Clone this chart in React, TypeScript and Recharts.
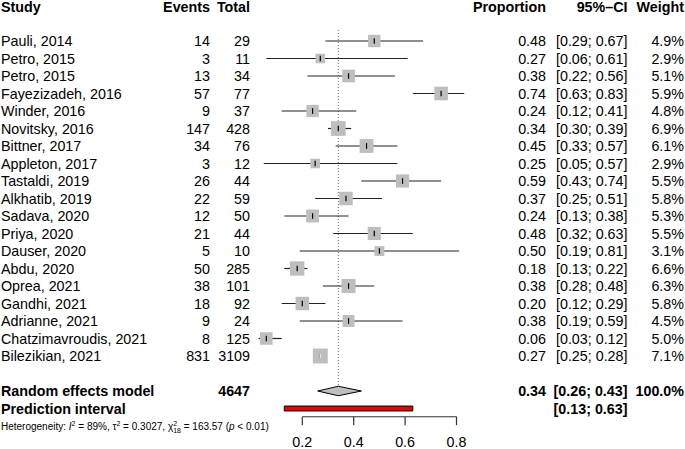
import React from "react";
import { ComposedChart, XAxis, YAxis, Scatter, ErrorBar, ReferenceLine, ReferenceArea, Area } from "recharts";

const studies = [
  "Pauli, 2014", "Petro, 2015", "Petro, 2015", "Fayezizadeh, 2016", "Winder, 2016", "Novitsky, 2016",
  "Bittner, 2017", "Appleton, 2017", "Tastaldi, 2019", "Alkhatib, 2019", "Sadava, 2020", "Priya, 2020",
  "Dauser, 2020", "Abdu, 2020", "Oprea, 2021", "Gandhi, 2021", "Adrianne, 2021", "Chatzimavroudis, 2021",
  "Bilezikian, 2021",
];
const events = [14, 3, 13, 57, 9, 147, 34, 3, 26, 22, 12, 21, 5, 50, 38, 18, 9, 8, 831];
const totals = [29, 11, 34, 77, 37, 428, 76, 12, 44, 59, 50, 44, 10, 285, 101, 92, 24, 125, 3109];
const proportions = [0.48, 0.27, 0.38, 0.74, 0.24, 0.34, 0.45, 0.25, 0.59, 0.37, 0.24, 0.48, 0.5, 0.18, 0.38, 0.2, 0.38, 0.06, 0.27];
const ciLower = [0.29, 0.06, 0.22, 0.63, 0.12, 0.3, 0.33, 0.05, 0.43, 0.25, 0.13, 0.32, 0.19, 0.13, 0.28, 0.12, 0.19, 0.03, 0.25];
const ciUpper = [0.67, 0.61, 0.56, 0.83, 0.41, 0.39, 0.57, 0.57, 0.74, 0.51, 0.38, 0.63, 0.81, 0.22, 0.48, 0.29, 0.59, 0.12, 0.28];
const weights = [4.9, 2.9, 5.1, 5.9, 4.8, 6.9, 6.1, 2.9, 5.5, 5.8, 5.3, 5.5, 3.1, 6.6, 6.3, 5.8, 4.5, 5.0, 7.1];

// random effects model: estimate, lower, upper
const pooled = [0.34, 0.26, 0.43];
const prediction = [0.13, 0.63];
const axisTicks = [0.2, 0.4, 0.6, 0.8];
const headers = ["Study", "Events", "Total", "Proportion", "95%\u2013CI", "Weight"];

// layout
const W = 685;
const H = 449;
const X0 = 250.9; // pixel of proportion 0
const XS = 257; // px per unit
const Y0 = 41; // pixel of first study row
const RS = 17.5; // row height
const xDomain = [-X0 / XS, (W - X0) / XS];
const yDomain = [-Y0 / RS, (H - Y0) / RS];
const px = (p: number) => (p - X0) / XS;

const FONT = '"Liberation Sans", Arial, Helvetica, sans-serif';
const FS = 14.3;
const HEAD_ROW = -1.93;
const SUMMARY_ROW = studies.length + 1;
const PRED_ROW = studies.length + 2;
const HET_ROW = studies.length + 3.05;
const AXIS_ROW = 21.47;
const TICK_ROW = 22.92;

const col = { study: px(1), events: px(210), total: px(250), prop: px(546), ci: px(627.5), weight: px(684) };

const fmtCi = (lo: number, hi: number) => `[${lo.toFixed(2)}; ${hi.toFixed(2)}]`;
const sideOf = (w: number) => 5.6 * Math.sqrt(w);

const forestRows = studies.map((s, i) => ({
  x: proportions[i],
  y: i,
  err: [proportions[i] - ciLower[i], ciUpper[i] - proportions[i]],
  w: weights[i],
  inner: (ciUpper[i] - ciLower[i]) * XS < sideOf(weights[i]),
}));
const innerRows = forestRows.filter((r) => r.inner);

const diamond = [
  { x: pooled[1], band: [SUMMARY_ROW, SUMMARY_ROW] },
  { x: pooled[0], band: [SUMMARY_ROW - 0.27, SUMMARY_ROW + 0.27] },
  { x: pooled[2], band: [SUMMARY_ROW, SUMMARY_ROW] },
];

type Cell = { x: number; y: number; text: string; b?: boolean };

const textCells = (anchor: "start" | "end" | "middle", cells: Cell[], key: string) => (
  <Scatter
    key={key}
    data={cells}
    isAnimationActive={false}
    shape={(p: any) => (
      <text
        x={p.cx}
        y={p.cy}
        dy="0.35em"
        textAnchor={anchor}
        fontFamily={FONT}
        fontSize={FS}
        fontWeight={p.payload.b ? "bold" : "normal"}
        fill="#000"
      >
        {p.payload.text}
      </text>
    )}
  />
);

const startCells: Cell[] = [
  { x: col.study, y: HEAD_ROW, text: headers[0], b: true },
  ...studies.map((s, i) => ({ x: col.study, y: i, text: s })),
  { x: col.study, y: SUMMARY_ROW, text: "Random effects model", b: true },
  { x: col.study, y: PRED_ROW, text: "Prediction interval", b: true },
];

const endCells: Cell[] = [
  { x: col.events, y: HEAD_ROW, text: headers[1], b: true },
  { x: col.total, y: HEAD_ROW, text: headers[2], b: true },
  { x: col.prop, y: HEAD_ROW, text: headers[3], b: true },
  { x: col.ci, y: HEAD_ROW, text: headers[4], b: true },
  { x: col.weight, y: HEAD_ROW, text: headers[5], b: true },
  ...studies.flatMap((s, i) => [
    { x: col.events, y: i, text: String(events[i]) },
    { x: col.total, y: i, text: String(totals[i]) },
    { x: col.prop, y: i, text: proportions[i].toFixed(2) },
    { x: col.ci, y: i, text: fmtCi(ciLower[i], ciUpper[i]) },
    { x: col.weight, y: i, text: `${weights[i].toFixed(1)}%` },
  ]),
  { x: col.total, y: SUMMARY_ROW, text: String(totals.reduce((a, b) => a + b, 0)), b: true },
  { x: col.prop, y: SUMMARY_ROW, text: pooled[0].toFixed(2), b: true },
  { x: col.ci, y: SUMMARY_ROW, text: fmtCi(pooled[1], pooled[2]), b: true },
  { x: col.weight, y: SUMMARY_ROW, text: `${weights.reduce((a, b) => a + b, 0).toFixed(1)}%`, b: true },
  { x: col.ci, y: PRED_ROW, text: fmtCi(prediction[0], prediction[1]), b: true },
];

const tickCells: Cell[] = axisTicks.map((t) => ({ x: t, y: TICK_ROW, text: String(t) }));

const Square = (p: any) => {
  const s = sideOf(p.payload.w);
  return (
    <g>
      <rect x={p.cx - s / 2} y={p.cy - s / 2} width={s} height={s} fill="#bebebe" />
      <line x1={p.cx} x2={p.cx} y1={p.cy - 2.8} y2={p.cy + 2.8} stroke="#000" strokeWidth={1.2} />
    </g>
  );
};

const WhiteTick = (p: any) => (
  <line x1={p.cx} x2={p.cx} y1={p.cy - 2.8} y2={p.cy + 2.8} stroke="#fff" strokeWidth={1.2} />
);

const Heterogeneity = (p: any) => (
  <text x={p.cx} y={p.cy} dy="0.35em" fontFamily={FONT} fontSize={10} fill="#000">
    {"Heterogeneity: "}
    <tspan fontStyle="italic">I</tspan>
    <tspan dy={-4} fontSize={7}>2</tspan>
    <tspan dy={4}>{" = 89%, \u03c4"}</tspan>
    <tspan dy={-4} fontSize={7}>2</tspan>
    <tspan dy={4}>{" = 0.3027, \u03c7"}</tspan>
    <tspan dy={-4} fontSize={7}>2</tspan>
    <tspan dx={-3.9} dy={7} fontSize={7}>18</tspan>
    <tspan dy={-3}>{" = 163.57 ("}</tspan>
    <tspan fontStyle="italic">p</tspan>
    {" < 0.01)"}
  </text>
);

export default function App() {
  return (
    <div style={{ position: "absolute", left: 0, top: 0, width: W, height: H, background: "#fff" }}>
      <ComposedChart width={W} height={H} margin={{ top: 0, right: 0, bottom: 0, left: 0 }}>
        <XAxis type="number" dataKey="x" domain={xDomain} hide />
        <YAxis type="number" dataKey="y" domain={yDomain} reversed hide />

        <ReferenceLine
          segment={[{ x: pooled[0], y: -0.63 }, { x: pooled[0], y: SUMMARY_ROW - 0.3 }]}
          stroke="#666"
          strokeWidth={1}
          strokeDasharray="1 2"
        />

        <Scatter data={forestRows} isAnimationActive={false} shape={Square}>
          <ErrorBar dataKey="err" direction="x" width={0} stroke="#222" strokeWidth={1.2} isAnimationActive={false} />
        </Scatter>
        <Scatter data={innerRows} isAnimationActive={false} shape={WhiteTick}>
          <ErrorBar dataKey="err" direction="x" width={0} stroke="#fff" strokeWidth={1.2} isAnimationActive={false} />
        </Scatter>

        <Area
          data={diamond}
          dataKey="band"
          type="linear"
          fill="#bebebe"
          fillOpacity={1}
          stroke="#000"
          strokeWidth={1}
          dot={false}
          activeDot={false}
          isAnimationActive={false}
        />

        <ReferenceArea
          x1={prediction[0]}
          x2={prediction[1]}
          y1={PRED_ROW - 0.14}
          y2={PRED_ROW + 0.14}
          fill="#ee0000"
          fillOpacity={1}
          stroke="#000"
          strokeWidth={1}
        />

        <ReferenceLine
          segment={[{ x: axisTicks[0], y: AXIS_ROW }, { x: axisTicks[axisTicks.length - 1], y: AXIS_ROW }]}
          stroke="#333"
          strokeWidth={1.2}
        />
        {axisTicks.map((t) => (
          <ReferenceLine
            key={t}
            segment={[{ x: t, y: AXIS_ROW }, { x: t, y: AXIS_ROW + 0.48 }]}
            stroke="#333"
            strokeWidth={1.2}
          />
        ))}

        {textCells("start", startCells, "start")}
        {textCells("end", endCells, "end")}
        {textCells("middle", tickCells, "ticks")}
        <Scatter data={[{ x: col.study, y: HET_ROW }]} isAnimationActive={false} shape={Heterogeneity} />
      </ComposedChart>
    </div>
  );
}
